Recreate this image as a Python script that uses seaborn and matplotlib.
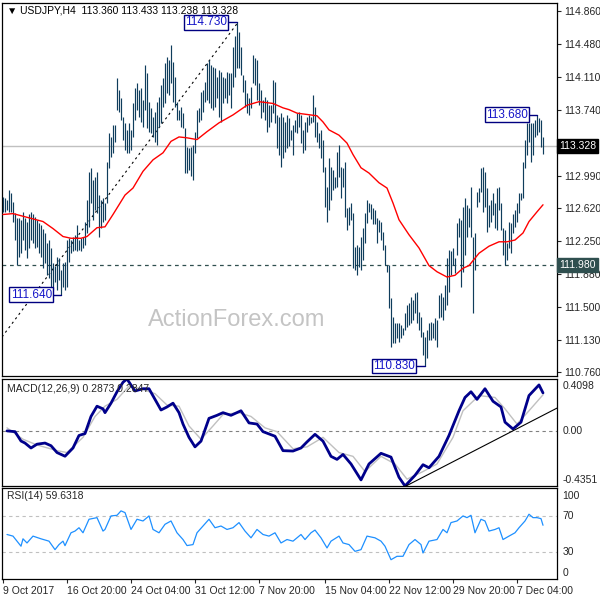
import matplotlib
matplotlib.use("Agg")
import matplotlib.pyplot as plt
import matplotlib.transforms as mtransforms
import seaborn as sns
import pandas as pd

# H4 price bars (bar index 0 = 9 Oct 2017 00:00)
high = [
    112.75, 112.74, 112.72, 112.83, 112.79, 112.69, 112.57, 112.51, 112.51, 112.49,
    112.58, 112.51, 112.47, 112.55, 112.58, 112.55, 112.52, 112.49, 112.45, 112.43,
    112.38, 112.34, 112.23, 112.26, 112.17, 112.00, 111.96, 112.07, 112.06, 111.92,
    112.00, 112.01, 112.26, 112.28, 112.26, 112.30, 112.32, 112.43, 112.26, 112.28,
    112.30, 112.47, 112.72, 113.03, 113.08, 112.94, 112.98, 113.03, 112.77, 112.72,
    112.74, 112.68, 113.15, 113.48, 113.43, 113.57, 113.57, 114.10, 113.96, 113.87,
    113.66, 113.59, 113.51, 113.59, 113.51, 113.82, 113.99, 114.04, 113.96, 113.99,
    113.85, 114.25, 114.16, 113.83, 113.76, 113.66, 113.71, 113.83, 113.88, 114.02,
    114.10, 114.27, 114.34, 114.30, 114.47, 114.28, 114.11, 113.83, 113.74, 113.77,
    113.70, 113.53, 113.32, 113.31, 113.32, 113.34, 113.49, 113.74, 113.76, 113.94,
    113.96, 114.05, 114.27, 114.30, 114.25, 114.22, 114.21, 114.11, 114.19, 114.17,
    114.11, 114.10, 114.17, 114.16, 114.16, 114.45, 114.58, 114.73, 114.62, 114.45,
    114.13, 114.08, 113.93, 113.87, 114.00, 114.36, 114.33, 114.30, 114.04, 113.96,
    113.85, 113.88, 113.85, 113.79, 113.79, 114.08, 114.05, 113.68, 113.66, 113.70,
    113.66, 113.60, 113.68, 113.65, 113.51, 113.57, 113.62, 113.70, 113.71, 113.68,
    113.51, 113.60, 113.66, 113.68, 113.66, 113.91, 113.77, 113.60, 113.48, 113.51,
    113.40, 113.09, 112.86, 113.19, 113.09, 113.06, 112.98, 113.26, 113.34, 113.09,
    113.08, 113.15, 112.62, 112.64, 112.68, 112.57, 112.18, 112.20, 112.18, 112.30,
    112.40, 112.57, 112.72, 112.68, 112.67, 112.62, 112.60, 112.51, 112.49, 112.47,
    112.35, 112.20, 111.98, 111.98, 111.60, 111.39, 111.32, 111.32, 111.32, 111.30,
    111.26, 111.43, 111.52, 111.55, 111.61, 111.58, 111.66, 111.67, 111.44, 111.39,
    111.22, 111.16, 111.24, 111.32, 111.33, 111.32, 111.38, 111.35, 111.64, 111.66,
    111.61, 111.75, 112.06, 112.15, 112.13, 112.17, 112.06, 112.45, 112.51, 112.49,
    112.64, 112.74, 112.66, 112.62, 112.86, 112.30, 112.34, 112.81, 112.85, 113.08,
    113.09, 113.03, 112.85, 112.66, 112.72, 112.79, 112.68, 112.85, 112.86, 112.68,
    112.40, 112.37, 112.23, 112.47, 112.45, 112.55, 112.60, 112.68, 112.79, 112.79,
    113.15, 113.40, 113.59, 113.59, 113.59, 113.59, 113.62, 113.68, 113.65, 113.62,
    113.43,
]
low = [
    112.58, 112.58, 112.60, 112.58, 112.58, 112.47, 112.26, 111.98, 112.07, 112.11,
    112.26, 112.15, 112.06, 112.17, 112.26, 112.23, 112.17, 112.18, 112.11, 112.07,
    111.94, 112.00, 111.86, 111.83, 111.67, 111.69, 111.78, 111.69, 111.81, 111.64,
    111.73, 111.69, 111.73, 112.01, 112.11, 112.13, 112.15, 112.13, 112.15, 112.13,
    112.17, 112.20, 112.34, 112.41, 112.68, 112.49, 112.60, 112.57, 112.30, 112.40,
    112.47, 112.49, 112.68, 113.08, 113.20, 113.25, 113.37, 113.74, 113.71, 113.62,
    113.40, 113.28, 113.25, 113.25, 113.28, 113.43, 113.62, 113.74, 113.66, 113.60,
    113.54, 113.74, 113.53, 113.49, 113.48, 113.43, 113.37, 113.34, 113.54, 113.59,
    113.77, 113.82, 113.93, 113.91, 114.04, 113.83, 113.77, 113.62, 113.62, 113.54,
    113.53, 113.02, 113.02, 113.06, 112.99, 112.94, 113.25, 113.42, 113.60, 113.62,
    113.71, 113.83, 113.85, 113.82, 113.76, 113.74, 113.77, 113.87, 113.66, 113.60,
    113.82, 113.87, 113.82, 113.91, 113.76, 114.00, 114.11, 114.21, 114.21, 114.13,
    113.94, 113.77, 113.70, 113.68, 113.76, 114.04, 114.02, 113.85, 113.79, 113.65,
    113.71, 113.62, 113.49, 113.54, 113.60, 113.70, 113.59, 113.31, 113.23, 113.09,
    113.19, 113.26, 113.31, 113.33, 113.40, 113.23, 113.49, 113.48, 113.54, 113.36,
    113.25, 113.28, 113.49, 113.57, 113.59, 113.60, 113.43, 113.37, 113.31, 113.19,
    113.03, 112.64, 112.47, 112.60, 112.72, 112.83, 112.85, 112.86, 112.98, 112.74,
    112.86, 112.52, 112.37, 112.43, 112.49, 111.94, 111.92, 111.86, 111.95, 111.92,
    112.03, 112.23, 112.45, 112.58, 112.50, 112.44, 112.44, 112.23, 112.35, 112.26,
    112.15, 111.98, 111.90, 111.49, 111.05, 111.09, 111.09, 111.15, 111.10, 111.15,
    111.18, 111.24, 111.27, 111.30, 111.32, 111.35, 111.43, 111.32, 111.24, 111.16,
    110.96, 110.83, 110.92, 111.13, 111.13, 111.15, 111.13, 111.05, 111.38, 111.39,
    111.35, 111.47, 111.52, 111.67, 111.86, 111.98, 111.89, 112.09, 112.30, 111.73,
    111.90, 112.09, 112.30, 112.41, 112.30, 111.43, 111.92, 112.64, 112.69, 112.81,
    112.58, 112.64, 112.35, 112.41, 112.47, 112.54, 112.40, 112.37, 112.60, 112.37,
    112.09, 111.98, 112.03, 112.17, 112.11, 112.34, 112.41, 112.47, 112.57, 112.72,
    112.74, 113.08, 113.23, 113.37, 113.14, 113.23, 113.43, 113.45, 113.49, 113.32,
    113.24,
]

# moving average (red)
ma_bar = [0, 5, 10, 15, 20, 25, 30, 34, 39, 42, 47, 51, 55, 61, 65, 70, 75, 80, 84,
          88, 92, 97, 102, 108, 115, 122, 128, 135, 140, 143, 147, 157, 160, 163, 168,
          172, 175, 179, 183, 188, 192, 195, 198, 203, 208, 213, 217, 222, 226, 230,
          233, 238, 243, 248, 252, 256, 260, 263, 267, 270]
ma_value = [112.55, 112.56, 112.53, 112.50, 112.47, 112.39, 112.30, 112.28, 112.28,
            112.30, 112.40, 112.41, 112.55, 112.77, 112.85, 113.04, 113.17, 113.25,
            113.38, 113.43, 113.42, 113.40, 113.49, 113.59, 113.68, 113.79, 113.83,
            113.81, 113.76, 113.74, 113.70, 113.67, 113.60, 113.51, 113.45, 113.36,
            113.23, 113.08, 113.02, 112.91, 112.85, 112.68, 112.49, 112.32, 112.17,
            111.97, 111.90, 111.84, 111.86, 111.94, 111.97, 112.11, 112.19, 112.24,
            112.24, 112.26, 112.34, 112.47, 112.58, 112.66]

# MACD(12,26,9)
macd_bar = [2, 6, 9, 11, 14, 17, 21, 24, 27, 31, 35, 38, 41, 44, 47, 50, 51, 54, 57,
            60, 62, 66, 70, 73, 76, 79, 82, 85, 88, 90, 93, 96, 99, 103, 107, 110, 114,
            119, 123, 127, 130, 136, 140, 145, 149, 152, 156, 160, 164, 167, 170, 174,
            179, 183, 189, 194, 198, 201, 206, 210, 213, 218, 223, 228, 231, 234, 237,
            241, 245, 249, 251, 255, 259, 263, 268, 270]
macd_value = [0.00, -0.006, -0.08, -0.096, -0.135, -0.105, -0.096, -0.117, -0.171,
              -0.20, -0.135, -0.036, -0.021, 0.114, 0.195, 0.174, 0.144, 0.219, 0.309,
              0.384, 0.4098, 0.315, 0.333, 0.333, 0.249, 0.165, 0.189, 0.219, 0.144,
              0.054, -0.051, -0.126, -0.081, 0.099, 0.123, 0.144, 0.123, 0.159, 0.063,
              0.054, -0.006, -0.042, -0.156, -0.159, -0.135, -0.087, -0.027, -0.081,
              -0.201, -0.225, -0.186, -0.261, -0.387, -0.261, -0.177, -0.207, -0.366,
              -0.4351, -0.351, -0.267, -0.291, -0.201, -0.036, 0.159, 0.264, 0.309,
              0.249, 0.333, 0.234, 0.189, 0.069, 0.015, 0.069, 0.279, 0.363, 0.30]
signal_bar = [2, 10, 17, 27, 32, 40, 46, 51, 57, 63, 69, 76, 82, 88, 93, 99, 105, 110,
              118, 124, 131, 137, 145, 152, 160, 168, 175, 181, 189, 196, 202, 210, 217,
              225, 230, 238, 246, 251, 257, 263, 270]
signal_value = [0.024, -0.066, -0.111, -0.156, -0.171, -0.051, 0.114, 0.195, 0.249,
                0.354, 0.333, 0.294, 0.204, 0.195, 0.039, -0.066, 0.039, 0.129, 0.144,
                0.114, 0.024, -0.006, -0.141, -0.126, -0.051, -0.171, -0.201, -0.321,
                -0.201, -0.261, -0.381, -0.321, -0.261, -0.051, 0.159, 0.279, 0.264,
                0.174, 0.054, 0.159, 0.285]

# RSI(14)
rsi_bar = [2, 5, 7, 9, 10, 12, 15, 19, 23, 26, 28, 30, 31, 34, 36, 38, 40, 43, 47, 50,
           51, 54, 57, 59, 61, 64, 67, 70, 73, 75, 78, 81, 84, 87, 90, 92, 95, 97, 100,
           103, 106, 109, 112, 115, 118, 121, 124, 127, 130, 133, 136, 139, 142, 145,
           149, 151, 154, 156, 159, 162, 164, 168, 170, 173, 176, 179, 182, 186, 189,
           191, 194, 197, 200, 203, 206, 209, 210, 213, 217, 220, 222, 224, 227, 230,
           232, 234, 236, 239, 241, 243, 246, 248, 250, 253, 256, 258, 261, 263, 265,
           267, 269, 270]
rsi_value = [49.4, 47.6, 42, 36.4, 44.6, 40, 47.6, 44.6, 42, 32.6, 38.2, 42, 37, 51.3,
             53.2, 56.9, 51.3, 66.3, 68.1, 53.2, 55, 70, 70.7, 75.6, 73.7, 55, 66.3,
             64.4, 70, 55, 51.3, 60.7, 64.4, 51.3, 43.8, 37.1, 38.2, 51.3, 58.8, 66.3,
             56.9, 58.8, 55, 56.9, 62.6, 53.2, 45.7, 55, 49.4, 47.6, 51.3, 40, 43.8, 42,
             49.4, 43.8, 51.3, 54.3, 45.7, 34.5, 42, 47.6, 40, 38.2, 30.7, 32.6, 47.6,
             45.7, 42, 36.4, 21.4, 25.2, 25.2, 38.2, 43.8, 38.2, 28.9, 42, 43.8, 55,
             51.3, 62.6, 64.4, 70, 68.1, 70.7, 51.3, 66.3, 64.4, 53.2, 55, 56.9, 43.8,
             47.6, 51.3, 56.9, 64.4, 71.9, 68.1, 68.1, 67, 59.6318]

price_ticks = [114.86, 114.48, 114.11, 113.74, 112.99, 112.62, 112.25, 111.88,
               111.50, 111.13, 110.76]
date_ticks = [0, 32, 64, 96, 128, 161, 193, 225, 257]
date_labels = ["9 Oct 2017", "16 Oct 20:00", "24 Oct 04:00", "31 Oct 12:00",
               "7 Nov 20:00", "15 Nov 04:00", "22 Nov 12:00", "29 Nov 20:00",
               "7 Dec 04:00"]

# marked swing points and levels
swing_bar = [117, 29, 211, 267]
swing_price = [114.73, 111.64, 110.83, 113.68]
swing_label_bar = [112, 24.5, 206, 262.5]
trend_bar = [-0.5, 117.5]
trend_price = [111.16, 114.73]
macd_trend_bar = [201.5, 277]
macd_trend_value = [-0.4351, 0.18]
last_price = 113.328
level_price = 111.98

sns.set_style("white")
plt.rcParams["font.family"] = ["Liberation Sans", "DejaVu Sans"]
plt.rcParams["font.size"] = 7.5

BAR_COLOR = "#0f3d5c"
XLIM = (-0.5, 277)

fig = plt.figure(figsize=(6, 6), dpi=100)
ax = fig.add_axes([2 / 600, 1 - 376 / 600, 555 / 600, 373 / 600])
ax_macd = fig.add_axes([2 / 600, 1 - 486 / 600, 555 / 600, 107 / 600])
ax_rsi = fig.add_axes([2 / 600, 1 - 579 / 600, 555 / 600, 91 / 600])

bars = pd.DataFrame({"bar": range(len(high)), "high": high, "low": low})

# ---- main price panel
ax.axhline(last_price, color="#c0c0c0", lw=1, zorder=1)
ax.axhline(level_price, color="#2f4f4f", lw=0.9, ls=(0, (3, 3)), zorder=1)
ax.text(0.423, 0.15, "ActionForex.com", transform=ax.transAxes, fontsize=17,
        color="#c4c4c4", ha="center", va="center", zorder=0)
ax.vlines(bars["bar"], bars["low"], bars["high"], color=BAR_COLOR, lw=0.85, zorder=3)
sns.lineplot(x=ma_bar, y=ma_value, ax=ax, color="red", lw=1, sort=False,
             estimator=None, zorder=4)
ax.plot(trend_bar, trend_price, color="black", lw=0.8, ls=(0, (2, 3)), zorder=2)

for b, p, lb in zip(swing_bar, swing_price, swing_label_bar):
    ax.plot([lb, b], [p, p], color="#000080", lw=1, zorder=5)
    ax.text(lb, p, f"{p:.3f}", ha="right", va="center", fontsize=8.5, color="#1515c8",
            zorder=6, bbox=dict(boxstyle="square,pad=0.12", fc="white", ec="#000080", lw=1))

ax.set_xlim(*XLIM)
ax.set_ylim(110.717, 114.95)
ax.yaxis.tick_right()
ax.set_yticks(price_ticks)
ax.set_yticklabels([f"{t:.3f}" for t in price_ticks])
ax.set_xticks([])
ax.tick_params(axis="y", length=3, width=0.8, pad=2, labelsize=7.5, direction="out")
ax.set_xlabel("")
ax.set_ylabel("")

trans = mtransforms.blended_transform_factory(ax.transAxes, ax.transData)
ax.text(1.004, last_price, f"{last_price:.3f}", transform=trans, ha="left", va="center",
        color="white", fontsize=7.5,
        bbox=dict(boxstyle="square,pad=0.18", fc="black", ec="black"))
ax.text(1.004, level_price, f"{level_price:.3f}", transform=trans, ha="left", va="center",
        color="white", fontsize=7.5,
        bbox=dict(boxstyle="square,pad=0.18", fc="#2f4f4f", ec="#2f4f4f"))
ax.text(5 / 555, 0.979, "▼ USDJPY,H4  113.360 113.433 113.238 113.328",
        transform=ax.transAxes, ha="left", va="center", fontsize=7.5, color="black")

# ---- MACD panel
ax_macd.axhline(0, color="#808080", lw=0.8, ls=(0, (3, 3)))
sns.lineplot(x=signal_bar, y=signal_value, ax=ax_macd, color="#c0c0c0", lw=1,
             sort=False, estimator=None)
sns.lineplot(x=macd_bar, y=macd_value, ax=ax_macd, color="#00008b", lw=2,
             sort=False, estimator=None)
ax_macd.plot(macd_trend_bar, macd_trend_value, color="black", lw=0.8)
ax_macd.set_xlim(*XLIM)
ax_macd.set_ylim(-0.4351, 0.4098)
ax_macd.set_xticks([])
ax_macd.set_yticks([])
ax_macd.set_xlabel("")
ax_macd.set_ylabel("")
ax_macd.text(5 / 555, 0.905, "MACD(12,26,9) 0.2873 0.2847", transform=ax_macd.transAxes,
             ha="left", va="center", fontsize=7.5)
tm = mtransforms.blended_transform_factory(ax_macd.transAxes, ax_macd.transData)
ax_macd.text(1.01, 0.935, "0.4098", transform=ax_macd.transAxes, ha="left", va="center")
ax_macd.text(1.01, 0.0, "0.00", transform=tm, ha="left", va="center")
ax_macd.text(1.01, 0.056, "-0.4351", transform=ax_macd.transAxes, ha="left", va="center")

# ---- RSI panel
for lvl in (70, 30):
    ax_rsi.axhline(lvl, color="#c0c0c0", lw=0.8, ls=(0, (3, 3)))
sns.lineplot(x=rsi_bar, y=rsi_value, ax=ax_rsi, color="#1e90ff", lw=0.9,
             sort=False, estimator=None)
ax_rsi.set_xlim(*XLIM)
ax_rsi.set_ylim(0, 101)
ax_rsi.set_yticks([])
ax_rsi.set_ylabel("")
ax_rsi.set_xlabel("")
ax_rsi.set_xticks(date_ticks)
ax_rsi.set_xticklabels(date_labels, ha="left")
ax_rsi.tick_params(axis="x", length=3, width=0.8, pad=2, labelsize=7.5, direction="out",
                   bottom=True)
ax_rsi.text(5 / 555, 0.912, "RSI(14) 59.6318", transform=ax_rsi.transAxes,
            ha="left", va="center", fontsize=7.5)
tr = mtransforms.blended_transform_factory(ax_rsi.transAxes, ax_rsi.transData)
ax_rsi.text(1.01, 0.912, "100", transform=ax_rsi.transAxes, ha="left", va="center")
ax_rsi.text(1.01, 70, "70", transform=tr, ha="left", va="center")
ax_rsi.text(1.01, 30, "30", transform=tr, ha="left", va="center")
ax_rsi.text(1.01, 0.066, "0", transform=ax_rsi.transAxes, ha="left", va="center")

for a in (ax, ax_macd, ax_rsi):
    for s in a.spines.values():
        s.set_color("black")
        s.set_linewidth(0.9)
        s.set_visible(True)

fig.savefig("out.png", dpi=100, facecolor="white")
